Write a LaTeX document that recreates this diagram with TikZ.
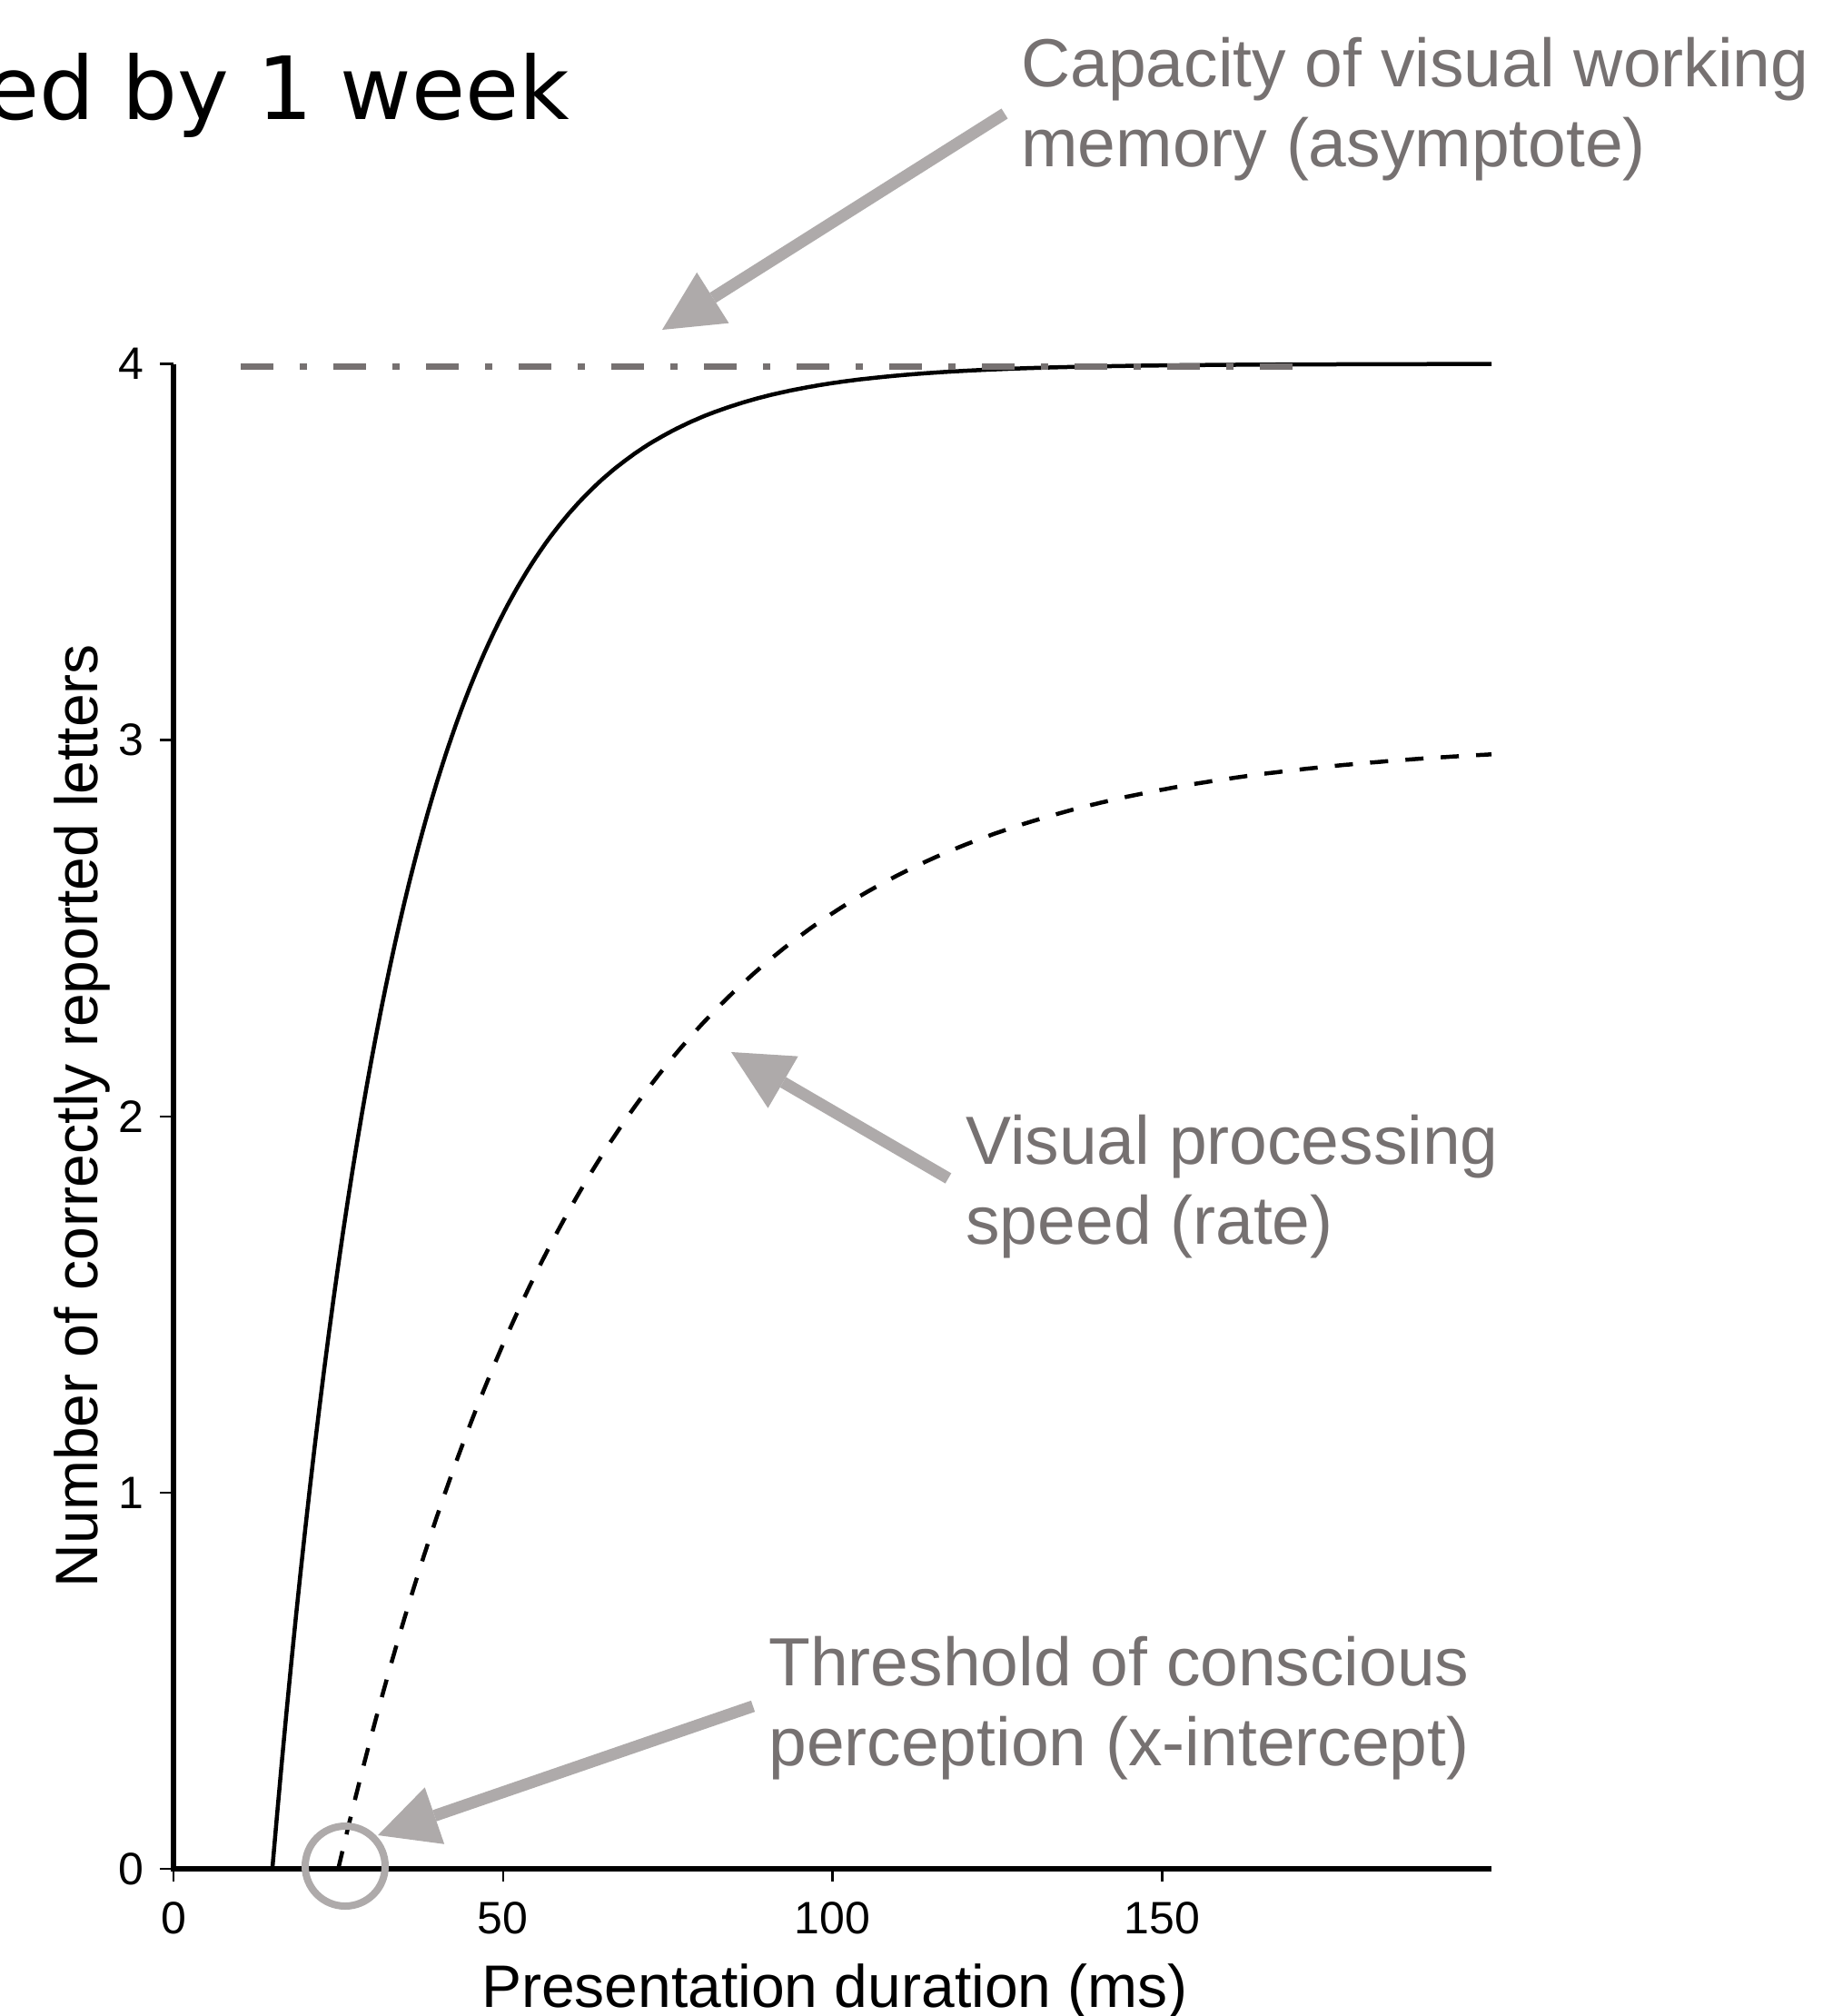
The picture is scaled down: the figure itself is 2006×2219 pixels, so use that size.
\documentclass[tikz,border=0pt]{standalone}
\usepackage{fontspec}
\setmainfont{Liberation Sans}
\newfontfamily\headfont{DejaVu Sans}
\usetikzlibrary{arrows.meta}

\definecolor{notegray}{HTML}{767171}
\definecolor{arrowgray}{HTML}{AEAAAA}

\newcommand\ticksize{\fontsize{25pt}{30pt}\selectfont}
\newcommand\axsize{\fontsize{33pt}{40pt}\selectfont}
\newcommand\notesize{\fontsize{37.5pt}{44pt}\selectfont}
\newcommand\headsize{\fontsize{48pt}{56pt}\selectfont}

\tikzset{
  axisline/.style={line width=2.75pt, black, line join=miter},
  tickline/.style={line width=1.25pt, black},
  ticklab/.style={font=\ticksize, inner sep=0pt},
  axislab/.style={font=\axsize, inner sep=0pt, anchor=base},
  note/.style={font=\notesize, text=notegray, inner sep=0pt, anchor=base west},
  fitcurve/.style={line width=2.25pt, black},
  pointer/.style={draw=arrowgray, line width=6.5pt,
    -{Triangle[length=33pt,width=33pt,line width=0pt]}},
  marker/.style={draw=arrowgray, line width=4pt},
}

\begin{document}
\begin{tikzpicture}[x=0.5pt,y=-0.5pt]
  % canvas
  \fill[white] (0,0) rectangle (2006,2219);
  \useasboundingbox (0,0) rectangle (2006,2219);

  % title fragment
  \node[anchor=base west, inner sep=0pt, font=\headfont\headsize] (ttl) at (-16,132) {ed by 1 week};

  % fitted curves: x = 191 + 7.255 t (ms), y = 2057 - 414.1 v
  \draw[fitcurve] plot[domain=15:200, samples=260]
    ({191+7.255*\x}, {2057-1656.4*(1-exp(-(\x-15)/19.5))});
  \draw[fitcurve, dash pattern=on 10pt off 9.5pt] plot[domain=25:200, samples=260]
    ({191+7.255*\x}, {2057-1242.3*(1-exp(-(\x-25)/40))});

  % asymptote
  \coordinate (asyA) at (265,404);
  \coordinate (asyB) at (1423,404);
  \draw[notegray, line width=3.5pt, dash pattern=on 18pt off 14.5pt on 4pt off 14.5pt] (asyA) -- (asyB);

  % axes
  \coordinate (orig) at (191,2057);
  \coordinate (ytop) at (191,400.6);
  \coordinate (xend) at (1642,2057);
  \draw[axisline] (ytop) -- (orig) -- (xend);

  % x ticks and labels
  \foreach \t in {0,50,100,150} {
    \coordinate (xt\t) at ({191+7.255*\t},2057);
    \draw[tickline] (xt\t) -- ++(0,14);
    \node[ticklab, anchor=north] (xl\t) at ({191+7.255*\t},2093) {\t};
  }
  % y ticks and labels
  \foreach \v in {0,1,2,3,4} {
    \coordinate (yt\v) at (191,{2057-414.1*\v});
    \draw[tickline] (yt\v) -- ++(-15,0);
    \node[ticklab, anchor=east] (yl\v) at (159,{2057-414.1*\v}) {\v};
  }

  % axis titles
  \node[axislab] (xlab) at (919,2209) {Presentation duration (ms)};
  \node[axislab, rotate=90] (ylab) at (107,1228) {Number of correctly reported letters};

  % annotations
  \node[note] (capA) at (1124,96) {Capacity of visual working};
  \node[note] (capB) at (1124,184) {memory (asymptote)};
  \node[note] (rateA) at (1063,1281) {Visual processing};
  \node[note] (rateB) at (1063,1369) {speed (rate)};
  \node[note] (thrA) at (846,1855) {Threshold of conscious};
  \node[note] (thrB) at (846,1943) {perception (x-intercept)};

  % pointers
  \coordinate (capTail) at (1106,125);
  \coordinate (capTip) at (729,363);
  \coordinate (rateTail) at (1044,1297);
  \coordinate (rateTip) at (805,1158);
  \coordinate (thrTail) at (829,1878);
  \coordinate (thrTip) at (416,2020);
  \draw[pointer] (capTail) -- (capTip);
  \draw[pointer] (rateTail) -- (rateTip);
  \draw[pointer] (thrTail) -- (thrTip);

  % intercept marker
  \node[marker, circle, minimum size=44pt, inner sep=0pt] (ring) at (380,2054) {};
\end{tikzpicture}
\end{document}
